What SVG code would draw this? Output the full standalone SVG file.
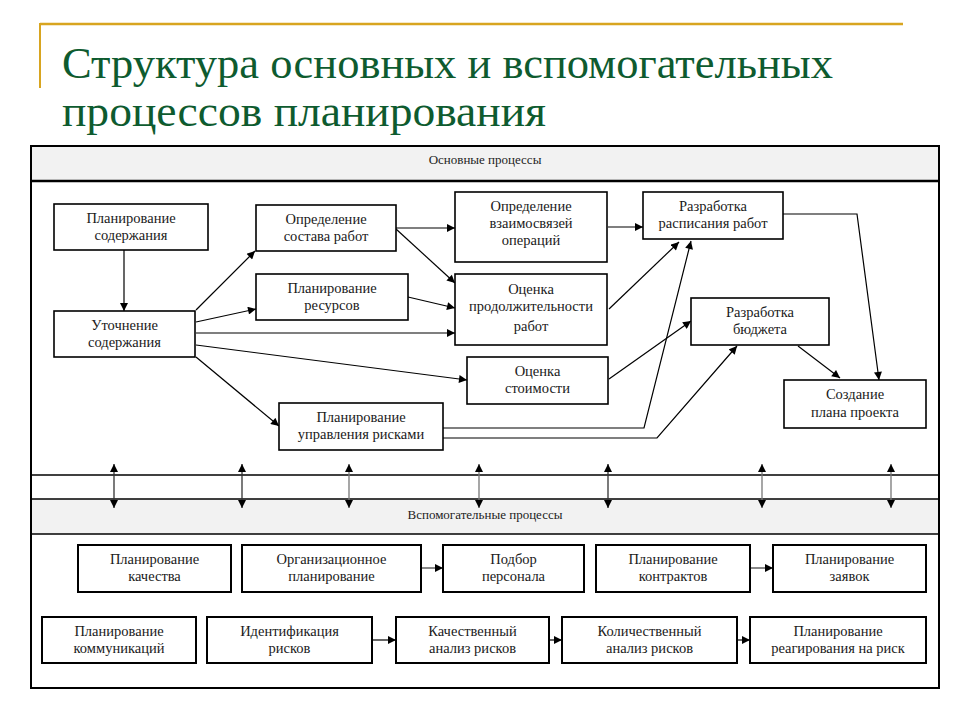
<svg xmlns="http://www.w3.org/2000/svg" width="960" height="720" viewBox="0 0 960 720">
<defs>
<marker id="ah" viewBox="0 0 10 10" refX="10" refY="5" markerWidth="9" markerHeight="8" markerUnits="userSpaceOnUse" orient="auto-start-reverse">
<path d="M0,0 L10,5 L0,10 z" fill="#000"/>
</marker>
<style>
.t{font-family:'Times New Roman','Liberation Serif','Noto Serif','FreeSerif','DejaVu Serif',serif;font-size:14.5px;fill:#1a1a1a;text-anchor:middle}
.h{font-family:'Times New Roman','Liberation Serif','Noto Serif','FreeSerif','DejaVu Serif',serif;font-size:13px;fill:#222;text-anchor:middle}
.title{font-family:'Times New Roman','Liberation Serif','Noto Serif','FreeSerif','DejaVu Serif',serif;font-size:44px;fill:#0e5b2f}
.b{fill:#fff;stroke:#000;stroke-width:1.6}
.b2{fill:#fff;stroke:#000;stroke-width:2}
.c{fill:none;stroke:#000;stroke-width:1.2;marker-end:url(#ah)}
.d{fill:none;stroke:#333;stroke-width:1.3;marker-start:url(#ah);marker-end:url(#ah)}
.g{fill:none;stroke:#888;stroke-width:2;marker-end:url(#ah)}
</style>
</defs>
<rect width="960" height="720" fill="#fff"/>
<g id="title">
<line x1="40" y1="24" x2="903" y2="24" stroke="#d8a520" stroke-width="2.5"/>
<line x1="40" y1="23" x2="40" y2="88" stroke="#d8a520" stroke-width="2"/>
<text class="title" x="62" y="78" textLength="771" lengthAdjust="spacingAndGlyphs">Структура основных и вспомогательных</text>
<text class="title" x="62" y="126" textLength="484" lengthAdjust="spacingAndGlyphs">процессов планирования</text>
</g>
<g id="frame">
<rect x="31" y="146" width="908" height="35" fill="#f2f2f2"/>
<rect x="31" y="499" width="908" height="35" fill="#f2f2f2"/>
<rect x="31" y="146" width="908" height="542" fill="none" stroke="#000" stroke-width="2"/>
<line x1="31" y1="181" x2="939" y2="181" stroke="#000" stroke-width="2.5"/>
<line x1="31" y1="475" x2="939" y2="475" stroke="#000" stroke-width="1.3"/>
<line x1="31" y1="499" x2="939" y2="499" stroke="#000" stroke-width="1.3"/>
<line x1="31" y1="534" x2="939" y2="534" stroke="#000" stroke-width="1.3"/>
<text class="h" x="485" y="164">Основные процессы</text>
<text class="h" x="485" y="519">Вспомогательные процессы</text>
</g>
<g id="connectors">
<line class="c" x1="124" y1="250" x2="124" y2="311"/>
<line class="c" x1="196" y1="310" x2="255" y2="251"/>
<line class="c" x1="196" y1="322" x2="256" y2="309"/>
<line class="c" x1="196" y1="333" x2="455" y2="333"/>
<line class="c" x1="196" y1="345" x2="467" y2="380"/>
<line class="c" x1="196" y1="357" x2="279" y2="426"/>
<line class="c" x1="396" y1="228" x2="455" y2="228"/>
<line class="c" x1="396" y1="229" x2="455" y2="283"/>
<line class="c" x1="408" y1="297" x2="455" y2="308"/>
<line class="c" x1="608" y1="227" x2="643" y2="227"/>
<line class="c" x1="609" y1="309" x2="679" y2="242"/>
<polyline class="c" points="443,428 644,428 691,241"/>
<polyline class="c" points="443,438 657,438 737,346"/>
<line class="c" x1="609" y1="379" x2="691" y2="321"/>
<polyline class="c" points="783,214 857,214 879,380"/>
<line class="c" x1="798" y1="346" x2="840" y2="378"/>
<line class="d" x1="114" y1="464" x2="114" y2="508"/>
<line class="d" x1="242" y1="464" x2="242" y2="508"/>
<line class="d" x1="349" y1="464" x2="349" y2="508" style="stroke:#777"/>
<line class="d" x1="479" y1="464" x2="479" y2="508" style="stroke:#777"/>
<line class="d" x1="608" y1="464" x2="608" y2="508"/>
<line class="d" x1="762" y1="464" x2="762" y2="508" style="stroke:#777"/>
<line class="d" x1="891" y1="464" x2="891" y2="508" style="stroke:#777"/>
<line class="g" x1="421" y1="568" x2="443" y2="568"/>
<line class="g" x1="750" y1="568" x2="773" y2="568"/>
<line class="c" x1="372" y1="640" x2="396" y2="640"/>
<line class="c" x1="549" y1="640" x2="562" y2="640"/>
<line class="c" x1="737" y1="640" x2="750" y2="640"/>
</g>
<g id="n1"><rect class="b" x="54" y="204" width="154" height="46"/><text class="t" x="131" y="223">Планирование</text><text class="t" x="131" y="240">содержания</text></g>
<g id="n2"><rect class="b" x="54" y="311" width="141" height="46"/><text class="t" x="124.5" y="330">Уточнение</text><text class="t" x="124.5" y="347">содержания</text></g>
<g id="n3"><rect class="b" x="256" y="205" width="140" height="46"/><text class="t" x="326" y="224">Определение</text><text class="t" x="326" y="241">состава работ</text></g>
<g id="n4"><rect class="b" x="256" y="274" width="152" height="46"/><text class="t" x="332" y="293">Планирование</text><text class="t" x="332" y="310">ресурсов</text></g>
<g id="n5"><rect class="b" x="455" y="192" width="152" height="70"/><text class="t" x="531" y="211">Определение</text><text class="t" x="531" y="228">взаимосвязей</text><text class="t" x="531" y="245">операций</text></g>
<g id="n6"><rect class="b" x="455" y="274" width="152" height="71"/><text class="t" x="531" y="294">Оценка</text><text class="t" x="531" y="311">продолжительности</text><text class="t" x="531" y="331">работ</text></g>
<g id="n7"><rect class="b" x="643" y="192" width="140" height="47"/><text class="t" x="713" y="211">Разработка</text><text class="t" x="713" y="228">расписания работ</text></g>
<g id="n8"><rect class="b" x="691" y="298" width="138" height="47"/><text class="t" x="760" y="317">Разработка</text><text class="t" x="760" y="334">бюджета</text></g>
<g id="n9"><rect class="b" x="467" y="357" width="141" height="47"/><text class="t" x="537.5" y="376">Оценка</text><text class="t" x="537.5" y="393">стоимости</text></g>
<g id="n10"><rect class="b" x="784" y="380" width="142" height="48"/><text class="t" x="855" y="399">Создание</text><text class="t" x="855" y="417">плана проекта</text></g>
<g id="n11"><rect class="b" x="279" y="403" width="164" height="47"/><text class="t" x="361" y="422">Планирование</text><text class="t" x="361" y="439">управления рисками</text></g>
<g id="s1"><rect class="b2" x="78" y="545" width="153" height="47"/><text class="t" x="154.5" y="564">Планирование</text><text class="t" x="154.5" y="581">качества</text></g>
<g id="s2"><rect class="b2" x="242" y="545" width="179" height="47"/><text class="t" x="331.5" y="564">Организационное</text><text class="t" x="331.5" y="581">планирование</text></g>
<g id="s3"><rect class="b2" x="443" y="545" width="141" height="47"/><text class="t" x="513.5" y="564">Подбор</text><text class="t" x="513.5" y="581">персонала</text></g>
<g id="s4"><rect class="b2" x="596" y="545" width="154" height="47"/><text class="t" x="673" y="564">Планирование</text><text class="t" x="673" y="581">контрактов</text></g>
<g id="s5"><rect class="b2" x="773" y="545" width="153" height="47"/><text class="t" x="849.5" y="564">Планирование</text><text class="t" x="849.5" y="581">заявок</text></g>
<g id="s6"><rect class="b2" x="42" y="617" width="154" height="46"/><text class="t" x="119" y="636">Планирование</text><text class="t" x="119" y="653">коммуникаций</text></g>
<g id="s7"><rect class="b2" x="207" y="617" width="165" height="46"/><text class="t" x="289.5" y="636">Идентификация</text><text class="t" x="289.5" y="653">рисков</text></g>
<g id="s8"><rect class="b2" x="396" y="617" width="153" height="46"/><text class="t" x="472.5" y="636">Качественный</text><text class="t" x="472.5" y="653">анализ рисков</text></g>
<g id="s9"><rect class="b2" x="562" y="617" width="175" height="46"/><text class="t" x="649.5" y="636">Количественный</text><text class="t" x="649.5" y="653">анализ рисков</text></g>
<g id="s10"><rect class="b2" x="750" y="617" width="176" height="46"/><text class="t" x="838" y="636">Планирование</text><text class="t" x="838" y="653">реагирования на риск</text></g>
</svg>
